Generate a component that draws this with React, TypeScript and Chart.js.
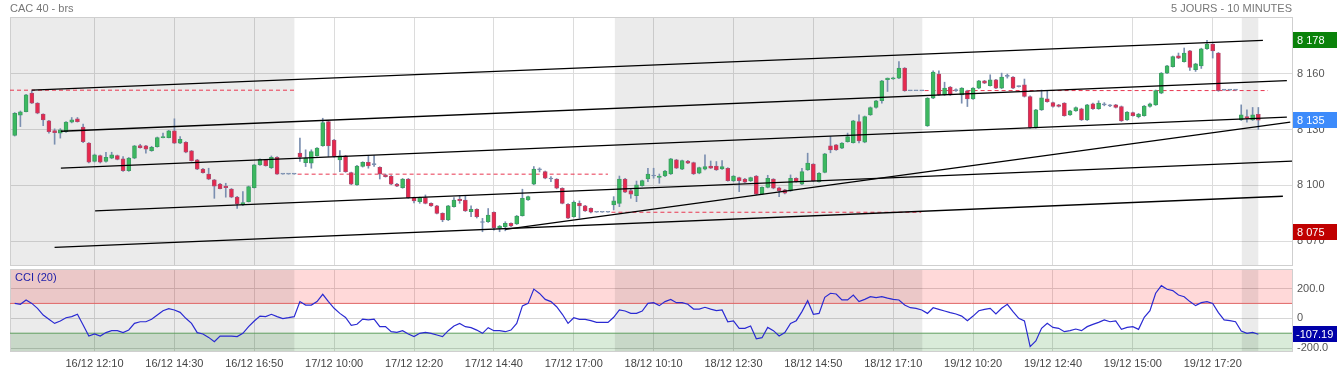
import React, { useEffect, useRef } from "react";
import { Chart, registerables } from "chart.js";

Chart.register(...registerables);

const FONT = 'Arial, "Liberation Sans", sans-serif';

// ---- candles (10-minute bars, index 0 = first visible bar) ----
const opens = [
  8126.8, 8137.7, 8139.7, 8149.6, 8144.2, 8138.3, 8134.7, 8129.5, 8128.1, 8128.9,
  8134.0, 8135.8, 8131.3, 8122.7, 8112.8, 8116.0, 8112.8, 8114.6, 8116.0, 8114.2,
  8107.9, 8114.6, 8121.4, 8121.2, 8118.7, 8120.8, 8125.7, 8125.7, 8129.3, 8122.7,
  8123.2, 8118.5, 8113.7, 8108.7, 8106.1, 8102.9, 8100.7, 8099.6, 8098.0, 8093.6,
  8089.4, 8091.2, 8098.7, 8111.0, 8113.7, 8109.5, 8115.1, 8106.0, 8106.0, 8106.0,
  8117.3, 8112.2, 8111.9, 8116.0, 8121.4, 8134.3, 8124.4, 8113.7, 8115.8, 8106.8,
  8100.2, 8110.1, 8112.4, 8111.3, 8109.7, 8105.6, 8105.0, 8100.7, 8098.7, 8103.4,
  8093.4, 8091.2, 8093.4, 8090.3, 8088.9, 8084.9, 8081.3, 8088.5, 8092.6, 8092.1,
  8085.8, 8087.1, 8080.2, 8080.4, 8085.4, 8076.9, 8077.7, 8079.5, 8079.2, 8083.7,
  8092.1, 8100.6, 8108.3, 8107.4, 8103.4, 8103.3, 8098.4, 8089.8, 8083.1, 8090.3,
  8088.9, 8087.6, 8085.5, 8085.5, 8085.5,
  8089.4, 8090.3, 8103.4, 8097.1, 8094.4, 8099.8, 8103.4, 8105.0, 8104.3, 8105.0,
  8106.1, 8113.7, 8108.7, 8113.1, 8112.2, 8106.5, 8108.7, 8110.4, 8110.4, 8108.8,
  8109.2, 8102.3, 8104.1, 8103.4, 8102.3, 8105.0, 8095.2, 8098.9, 8103.3, 8098.7,
  8097.5, 8097.0, 8103.8, 8100.6, 8108.3, 8111.4, 8102.0, 8107.0, 8121.2, 8121.8,
  8120.0, 8123.5, 8123.0, 8134.3, 8123.2, 8137.9, 8141.9, 8145.6, 8156.8, 8157.3,
  8157.7, 8163.1, 8150.9, 8150.9, 8150.9,
  8132.0, 8146.9, 8159.9, 8148.7, 8152.9, 8151.4, 8148.7, 8150.9, 8146.5, 8152.3,
  8156.2, 8153.7, 8156.8, 8152.3, 8158.6, 8158.2, 8153.2, 8154.1, 8147.8, 8131.1,
  8140.6, 8146.5, 8144.5, 8143.3, 8144.2, 8137.9, 8140.1, 8141.2, 8135.2, 8143.9,
  8141.2, 8143.3, 8142.9, 8143.3, 8142.4, 8135.2, 8139.1, 8137.0, 8137.5, 8142.4,
  8143.3, 8149.6, 8160.4, 8163.9, 8169.7, 8166.6, 8172.4, 8162.2, 8164.3, 8173.5,
  8176.0, 8171.2, 8151.2, 8151.2, 8151.2,
  8135.2, 8137.0, 8135.2, 8138.2,
];
const highs = [
  8139.2, 8140.0, 8149.0, 8150.9, 8144.5, 8138.5, 8135.0, 8130.4, 8130.5, 8134.3,
  8136.5, 8136.5, 8132.9, 8123.0, 8116.8, 8116.3, 8117.8, 8117.8, 8116.3, 8115.5,
  8115.0, 8121.5, 8122.1, 8121.5, 8121.0, 8126.0, 8128.1, 8129.6, 8135.8, 8126.2,
  8123.5, 8118.8, 8114.0, 8109.2, 8109.2, 8103.2, 8101.0, 8101.1, 8098.3, 8094.0,
  8096.6, 8099.6, 8111.3, 8114.3, 8114.0, 8115.8, 8115.4, 8106.0, 8106.0, 8106.0,
  8125.4, 8119.1, 8119.1, 8120.3, 8136.1, 8134.6, 8124.7, 8118.7, 8116.1, 8107.1,
  8110.7, 8112.7, 8116.0, 8116.0, 8110.0, 8106.0, 8105.3, 8101.0, 8103.7, 8103.7,
  8093.7, 8093.7, 8094.8, 8090.6, 8089.2, 8085.2, 8089.2, 8093.4, 8094.3, 8094.3,
  8088.9, 8087.4, 8082.2, 8087.5, 8085.7, 8078.4, 8080.4, 8079.8, 8083.8, 8097.9,
  8094.2, 8110.1, 8109.4, 8107.7, 8104.7, 8103.6, 8098.7, 8090.1, 8091.6, 8091.6,
  8089.2, 8087.9, 8085.5, 8085.5, 8085.5,
  8093.9, 8105.0, 8103.7, 8098.4, 8102.3, 8102.8, 8109.2, 8109.2, 8106.1, 8108.0,
  8114.5, 8114.0, 8113.6, 8113.4, 8112.5, 8109.8, 8116.4, 8113.1, 8112.8, 8113.3,
  8109.5, 8105.3, 8104.4, 8103.7, 8104.4, 8105.3, 8099.2, 8105.4, 8103.6, 8099.0,
  8097.8, 8105.6, 8104.1, 8109.2, 8117.3, 8111.7, 8106.8, 8117.2, 8126.2, 8122.0,
  8123.0, 8128.1, 8135.0, 8137.9, 8137.3, 8142.2, 8145.8, 8156.5, 8157.8, 8158.2,
  8166.6, 8163.4, 8150.9, 8150.9, 8150.9,
  8147.2, 8161.6, 8161.6, 8155.5, 8153.2, 8152.0, 8152.6, 8151.2, 8152.6, 8156.5,
  8156.5, 8159.5, 8157.1, 8160.4, 8159.9, 8158.5, 8153.5, 8157.2, 8148.1, 8140.9,
  8151.3, 8150.9, 8144.8, 8143.6, 8144.5, 8140.4, 8142.2, 8141.5, 8143.6, 8144.2,
  8145.5, 8144.5, 8143.5, 8143.6, 8142.7, 8139.7, 8139.4, 8138.7, 8143.0, 8144.2,
  8151.3, 8160.7, 8164.6, 8169.6, 8171.2, 8173.9, 8172.7, 8165.7, 8173.8, 8178.0,
  8176.3, 8171.5, 8151.2, 8151.2, 8151.2,
  8143.3, 8140.6, 8141.9, 8141.9,
];
const lows = [
  8126.5, 8131.6, 8139.5, 8144.0, 8138.5, 8132.1, 8128.1, 8122.1, 8125.4, 8128.5,
  8133.6, 8134.0, 8123.0, 8112.0, 8112.5, 8112.0, 8112.5, 8114.3, 8113.7, 8107.5,
  8107.5, 8114.3, 8120.0, 8117.3, 8118.3, 8120.5, 8125.5, 8125.5, 8122.4, 8122.4,
  8117.5, 8113.0, 8108.4, 8106.5, 8103.0, 8093.0, 8098.0, 8093.6, 8093.3, 8087.6,
  8089.0, 8091.0, 8098.5, 8110.7, 8110.3, 8109.0, 8105.8, 8106.0, 8106.0, 8106.0,
  8112.8, 8110.1, 8109.2, 8115.7, 8121.0, 8115.5, 8115.2, 8107.4, 8107.0, 8100.3,
  8100.0, 8109.8, 8109.2, 8110.1, 8103.4, 8104.4, 8100.3, 8099.3, 8098.4, 8093.0,
  8090.5, 8090.3, 8090.0, 8088.6, 8084.6, 8080.4, 8081.0, 8088.2, 8090.3, 8085.9,
  8083.1, 8082.4, 8075.0, 8080.0, 8075.9, 8075.0, 8075.5, 8077.8, 8078.9, 8083.4,
  8091.8, 8100.3, 8107.2, 8103.5, 8102.0, 8098.1, 8090.0, 8082.0, 8082.8, 8082.3,
  8085.9, 8085.2, 8085.5, 8085.5, 8085.5,
  8086.7, 8088.5, 8096.0, 8093.0, 8091.2, 8099.5, 8102.0, 8103.8, 8101.1, 8104.7,
  8105.8, 8109.0, 8108.4, 8111.6, 8105.8, 8106.2, 8108.3, 8109.0, 8108.0, 8108.5,
  8102.2, 8102.0, 8096.6, 8101.4, 8102.0, 8094.9, 8094.9, 8098.6, 8098.1, 8093.9,
  8095.4, 8096.7, 8101.7, 8100.3, 8108.0, 8102.0, 8101.7, 8106.7, 8117.5, 8118.8,
  8119.7, 8123.2, 8122.7, 8122.8, 8122.9, 8137.6, 8141.5, 8144.2, 8150.5, 8157.0,
  8157.4, 8150.6, 8150.9, 8150.9, 8150.9,
  8131.7, 8146.6, 8148.4, 8148.4, 8148.4, 8150.5, 8144.2, 8142.4, 8146.2, 8152.0,
  8154.7, 8153.4, 8152.0, 8152.0, 8157.7, 8152.0, 8152.9, 8147.5, 8130.8, 8130.8,
  8140.3, 8144.7, 8142.1, 8142.1, 8137.2, 8137.6, 8139.8, 8134.9, 8134.9, 8140.9,
  8140.9, 8142.8, 8142.3, 8141.6, 8134.4, 8134.9, 8137.2, 8136.3, 8137.2, 8142.1,
  8143.0, 8149.3, 8160.1, 8163.6, 8168.2, 8166.3, 8161.8, 8161.3, 8162.9, 8173.2,
  8168.5, 8150.6, 8151.2, 8151.2, 8151.2,
  8134.9, 8134.0, 8134.9, 8130.1,
];
const closes = [
  8138.8, 8139.5, 8148.7, 8144.2, 8138.8, 8135.2, 8128.9, 8128.4, 8129.8, 8134.0,
  8135.2, 8134.3, 8123.5, 8112.4, 8116.4, 8112.4, 8115.1, 8116.4, 8114.0, 8107.9,
  8114.6, 8121.2, 8120.3, 8119.4, 8120.5, 8125.7, 8126.2, 8129.3, 8122.7, 8124.8,
  8117.8, 8113.3, 8108.7, 8106.8, 8103.3, 8099.6, 8098.2, 8098.7, 8093.6, 8090.0,
  8090.7, 8099.3, 8111.0, 8114.0, 8110.6, 8115.1, 8106.0, 8106.0, 8106.0, 8106.0,
  8115.1, 8114.6, 8118.1, 8120.0, 8133.8, 8121.2, 8115.5, 8115.8, 8107.4, 8100.6,
  8110.4, 8112.4, 8110.4, 8111.1, 8106.1, 8104.7, 8100.6, 8099.6, 8103.4, 8093.4,
  8091.6, 8093.4, 8090.3, 8088.9, 8084.9, 8081.3, 8088.9, 8092.1, 8091.7, 8086.2,
  8087.1, 8083.1, 8080.0, 8084.0, 8077.2, 8078.1, 8079.5, 8078.1, 8083.5, 8093.0,
  8093.9, 8108.8, 8108.4, 8103.8, 8103.4, 8098.4, 8090.3, 8082.3, 8090.9, 8088.9,
  8086.2, 8085.5, 8085.5, 8085.5, 8085.5,
  8091.6, 8103.4, 8096.3, 8095.2, 8100.2, 8102.5, 8106.1, 8105.1, 8105.0, 8107.7,
  8114.2, 8109.2, 8113.3, 8111.9, 8106.1, 8109.5, 8110.1, 8109.2, 8108.3, 8110.1,
  8102.5, 8105.0, 8102.5, 8101.7, 8104.1, 8095.2, 8098.9, 8103.8, 8098.4, 8097.1,
  8095.7, 8103.8, 8102.0, 8107.4, 8111.9, 8102.3, 8106.5, 8116.9, 8119.1, 8119.1,
  8122.7, 8126.2, 8134.7, 8123.9, 8137.0, 8141.9, 8145.5, 8156.2, 8157.7, 8157.8,
  8163.1, 8150.9, 8150.9, 8150.9, 8150.9,
  8146.9, 8160.9, 8148.7, 8152.3, 8148.7, 8151.0, 8152.3, 8146.5, 8152.3, 8156.2,
  8155.0, 8156.8, 8152.3, 8158.2, 8158.7, 8152.3, 8153.1, 8147.8, 8131.1, 8140.6,
  8147.1, 8145.0, 8142.4, 8142.4, 8137.5, 8140.1, 8141.9, 8135.2, 8143.3, 8141.2,
  8144.2, 8143.4, 8142.8, 8141.9, 8134.7, 8139.4, 8137.5, 8138.4, 8142.7, 8143.9,
  8151.0, 8160.4, 8164.3, 8169.3, 8168.5, 8171.2, 8163.4, 8165.4, 8173.5, 8176.0,
  8172.4, 8150.9, 8151.2, 8151.2, 8151.2,
  8137.9, 8136.1, 8137.9, 8135.0,
];

// ---- CCI (20) ----
const cci = [
  100, 94, 123, 100, 67, 22, -7, -34, -18, 4,
  11, 27, -45, -119, -105, -119, -96, -83, -83, -96,
  -78, -34, -23, -23, -7, 22, 51, 65, 56, 40,
  0, -34, -96, -105, -128, -157, -119, -119, -119, -123,
  -101, -56, -18, 15, 11, 27, 11, -2, 4, 11,
  112, 89, 89, 112, 161, 112, 67, 33, 6, -47,
  -40, -5, -11, -5, -56, -56, -90, -94, -83, -105,
  -123, -101, -94, -101, -112, -123, -83, -52, -34, -56,
  -63, -79, -101, -63, -83, -83, -90, -79, -34, 83,
  100, 196, 167, 127, 112, 78, 27, -34, 4, -7,
  -7, -16, -27, -27, -27,
  7, 56, 49, 33, 33, 49, 100, 105, 85, 112,
  127, 105, 105, 94, 62, 62, 74, 62, 51, 56,
  -23, -18, -67, -67, -52, -137, -130, -61, -83, -119,
  -96, -34, -16, 45, 118, 27, 33, 141, 168, 163,
  123, 123, 156, 112, 127, 145, 139, 145, 135, 127,
  123, 89, 71, 67, 56,
  33, 71, 60, 49, 38, 29, 15, -16, 15, 51,
  60, 67, 29, 67, 94, 45, 0, -18, -190, -152,
  -67, -34, -61, -67, -90, -83, -72, -83, -56, -41,
  -27, -11, -23, -18, -74, -61, -56, -74, 7, 51,
  168, 219, 195, 186, 156, 145, 112, 85, 105, 112,
  100, 38, -11, -16, -23,
  -85, -101, -94, -107.19,
];

// ---- axes ----
const tickIdx = [14, 28, 42, 56, 70, 84, 98, 112, 126, 140, 154, 168, 182, 196, 210];
const tickLabels = [
  "16/12 12:10", "16/12 14:30", "16/12 16:50", "17/12 10:00", "17/12 12:20",
  "17/12 14:40", "17/12 17:00", "18/12 10:10", "18/12 12:30", "18/12 14:50",
  "18/12 17:10", "19/12 10:20", "19/12 12:40", "19/12 15:00", "19/12 17:20",
];
const priceTicks = [8070, 8100, 8130, 8160];
const cciTicks = [-200, 0, 200];
const cciLevels = [100, -100];

// ---- annotations ----
const grayDays = [[-0.82, 49.04], [105.2, 159.1], [215.1, 218.0]];
const trendLines = [
  [3.0, 8151.2, 218.8, 8178.0],
  [8.1, 8129.1, 223.0, 8156.4],
  [8.1, 8109.2, 223.0, 8136.7],
  [14.1, 8086.2, 223.9, 8113.0],
  [7.0, 8066.6, 222.3, 8094.1],
  [86.0, 8076.3, 223.6, 8134.0],
];
const prevCloseLines = [
  [-0.82, 49.0, 8151.2],
  [49.6, 104.0, 8106.0],
  [104.6, 158.9, 8085.5],
  [159.5, 219.7, 8151.0],
];
const priceBadges = [8178, 8135, 8075];
const cciLast = -107.19;

const X_MIN = -0.82;
const X_MAX = 223.9;

const GREEN = "#3cb95f";
const GREEN_B = "#3b9e63";
const RED = "#e8284c";
const RED_B = "#b4466a";
const WICK = "#7b8fb0";

const fmtPrice = (v: number) => {
  const r = Math.round(v);
  return `${Math.floor(r / 1000)} ${String(r % 1000).padStart(3, "0")}`;
};

const noPad = (s: any) => {
  s.paddingTop = 0;
  s.paddingBottom = 0;
  s.paddingLeft = 0;
  s.paddingRight = 0;
};

export default function App() {
  const mainRef = useRef<HTMLCanvasElement>(null);
  const cciRef = useRef<HTMLCanvasElement>(null);

  useEffect(() => {
    document.body.style.margin = "0";
    Chart.defaults.font.family = FONT;
    Chart.defaults.font.size = 11;

    const dirOf = (i: number) => {
      const d = closes[i] - opens[i];
      return d > 0.45 ? 1 : d < -0.45 ? -1 : 0;
    };
    const bodies = opens.map((o, i) => ({ x: i, y: [Math.min(o, closes[i]), Math.max(o, closes[i])] }));
    const wicks = highs.map((h, i) => ({ x: i, y: [lows[i], h] }));

    const xCommon = (showLabels: boolean) => ({
      type: "linear" as const,
      min: X_MIN,
      max: X_MAX,
      offset: false,
      afterBuildTicks: (s: any) => {
        s.ticks = tickIdx.map((v) => ({ value: v }));
      },
      ticks: {
        display: showLabels,
        autoSkip: false,
        maxRotation: 0,
        padding: 6,
        color: "#444",
        font: { size: 11, family: FONT },
        callback: (v: any) => {
          const k = tickIdx.indexOf(Number(v));
          return k >= 0 ? tickLabels[k] : "";
        },
      },
      grid: { color: "#dcdcdc", drawTicks: false, offset: false },
      border: { display: false },
      afterFit: (s: any) => {
        s.height = showLabels ? 21 : 0;
        noPad(s);
      },
    });

    const mainDeco = {
      id: "mainDeco",
      beforeDatasetsDraw(chart: any) {
        const { ctx, chartArea: a, scales } = chart;
        const x = scales.x;
        ctx.save();
        ctx.beginPath();
        ctx.rect(a.left, a.top, a.right - a.left, a.bottom - a.top);
        ctx.clip();
        ctx.fillStyle = "rgba(0,0,0,0.08)";
        grayDays.forEach(([s, e]) => {
          const x1 = x.getPixelForValue(s);
          const x2 = x.getPixelForValue(e);
          ctx.fillRect(x1, a.top, x2 - x1, a.bottom - a.top);
        });
        ctx.restore();
        ctx.save();
        ctx.strokeStyle = "#cfcfcf";
        ctx.lineWidth = 1;
        ctx.strokeRect(Math.round(a.left) + 0.5, Math.round(a.top) + 0.5, Math.round(a.right - a.left), Math.round(a.bottom - a.top));
        ctx.restore();
      },
      afterDraw(chart: any) {
        const { ctx, scales } = chart;
        const y = scales.y;
        ctx.save();
        ctx.font = `11px ${FONT}`;
        ctx.fillStyle = "#777";
        ctx.textBaseline = "middle";
        ctx.textAlign = "left";
        ctx.fillText("CAC 40 - brs", 10, 9);
        ctx.textAlign = "right";
        ctx.fillText("5 JOURS - 10 MINUTES", 1292, 9);
        const colors = ["#0a820a", "#3d8bfb", "#c00000"];
        priceBadges.forEach((v, k) => {
          const py = Math.round(y.getPixelForValue(v));
          ctx.fillStyle = colors[k];
          ctx.fillRect(1293, py - 8, 44, 16);
          ctx.fillStyle = "#fff";
          ctx.textAlign = "left";
          ctx.fillText(fmtPrice(v), 1297, py + 0.5);
        });
        ctx.restore();
      },
    };

    const lineDs = (pts: { x: number; y: number }[], color: string, width: number, dash: number[], order: number) => ({
      type: "line" as const,
      data: pts,
      borderColor: color,
      borderWidth: width,
      borderDash: dash,
      pointRadius: 0,
      fill: false,
      tension: 0,
      order,
    });

    const main = new Chart(mainRef.current as HTMLCanvasElement, {
      type: "bar",
      data: {
        datasets: [
          ...prevCloseLines.map(([a, b, v]) =>
            lineDs([{ x: a, y: v }, { x: b, y: v }], "#e8364f", 1, [4, 3], 5)
          ),
          {
            type: "bar" as const,
            data: wicks as any,
            backgroundColor: WICK,
            borderWidth: 0,
            barThickness: 1,
            grouped: false,
            order: 4,
          },
          {
            type: "bar" as const,
            data: bodies as any,
            backgroundColor: opens.map((_, i) => (dirOf(i) > 0 ? GREEN : dirOf(i) < 0 ? RED : WICK)),
            borderColor: opens.map((_, i) => (dirOf(i) > 0 ? GREEN_B : dirOf(i) < 0 ? RED_B : WICK)),
            borderWidth: 1,
            borderSkipped: false,
            barThickness: 4,
            minBarLength: 1,
            grouped: false,
            order: 3,
          },
          ...trendLines.map(([x1, y1, x2, y2]) =>
            lineDs([{ x: x1, y: y1 }, { x: x2, y: y2 }], "#000", 1.3, [], 1)
          ),
        ] as any,
      },
      options: {
        responsive: false,
        devicePixelRatio: 1,
        animation: false,
        events: [],
        layout: { padding: { left: 10, top: 17, right: 0, bottom: 2 } },
        plugins: { legend: { display: false }, tooltip: { enabled: false } },
        scales: {
          x: xCommon(false) as any,
          y: {
            position: "right",
            min: 8057.1,
            max: 8190.6,
            afterBuildTicks: (s: any) => {
              s.ticks = priceTicks.map((v) => ({ value: v }));
            },
            ticks: {
              color: "#555",
              padding: 5,
              font: { size: 11, family: FONT },
              callback: (v: any) => fmtPrice(Number(v)),
            },
            grid: { color: "#dcdcdc", drawTicks: false },
            border: { display: false },
            afterFit: (s: any) => {
              s.width = 45;
              noPad(s);
            },
          } as any,
        },
      },
      plugins: [mainDeco],
    });

    const cciDeco = {
      id: "cciDeco",
      beforeDatasetsDraw(chart: any) {
        const { ctx, chartArea: a, scales } = chart;
        const x = scales.x;
        const y = scales.y;
        ctx.save();
        ctx.beginPath();
        ctx.rect(a.left, a.top, a.right - a.left, a.bottom - a.top);
        ctx.clip();
        const y100 = y.getPixelForValue(cciLevels[0]);
        const yM100 = y.getPixelForValue(cciLevels[1]);
        ctx.fillStyle = "rgba(255,0,0,0.15)";
        ctx.fillRect(a.left, a.top, a.right - a.left, y100 - a.top);
        ctx.fillStyle = "rgba(0,120,0,0.15)";
        ctx.fillRect(a.left, yM100, a.right - a.left, a.bottom - yM100);
        ctx.fillStyle = "rgba(0,0,0,0.08)";
        grayDays.forEach(([s, e]) => {
          const x1 = x.getPixelForValue(s);
          const x2 = x.getPixelForValue(e);
          ctx.fillRect(x1, a.top, x2 - x1, a.bottom - a.top);
        });
        ctx.restore();
        ctx.save();
        ctx.strokeStyle = "#cfcfcf";
        ctx.lineWidth = 1;
        ctx.strokeRect(Math.round(a.left) + 0.5, Math.round(a.top) + 0.5, Math.round(a.right - a.left), Math.round(a.bottom - a.top));
        ctx.restore();
      },
      afterDraw(chart: any) {
        const { ctx, scales } = chart;
        const y = scales.y;
        ctx.save();
        ctx.font = `11px ${FONT}`;
        ctx.textBaseline = "middle";
        ctx.textAlign = "left";
        ctx.fillStyle = "#1c1ca8";
        ctx.fillText("CCI (20)", 15, 11);
        const py = Math.round(y.getPixelForValue(cciLast));
        ctx.fillStyle = "#0000a8";
        ctx.fillRect(1293, py - 8, 44, 16);
        ctx.fillStyle = "#fff";
        ctx.fillText(cciLast.toFixed(2), 1296, py + 0.5);
        ctx.restore();
      },
    };

    const cciChart = new Chart(cciRef.current as HTMLCanvasElement, {
      type: "line",
      data: {
        datasets: [
          lineDs([{ x: X_MIN, y: cciLevels[0] }, { x: X_MAX, y: cciLevels[0] }], "#e06464", 1, [], 3),
          lineDs([{ x: X_MIN, y: cciLevels[1] }, { x: X_MAX, y: cciLevels[1] }], "#5e9e5e", 1, [], 3),
          lineDs(cci.map((v, i) => ({ x: i, y: v })), "#2a2ad2", 1.2, [], 1),
        ] as any,
      },
      options: {
        responsive: false,
        devicePixelRatio: 1,
        animation: false,
        events: [],
        layout: { padding: { left: 10, top: 2, right: 0, bottom: 0 } },
        plugins: { legend: { display: false }, tooltip: { enabled: false } },
        scales: {
          x: xCommon(true) as any,
          y: {
            position: "right",
            min: -219.4,
            max: 330.8,
            afterBuildTicks: (s: any) => {
              s.ticks = cciTicks.map((v) => ({ value: v }));
            },
            ticks: {
              color: "#555",
              padding: 5,
              font: { size: 11, family: FONT },
              callback: (v: any) => (Number(v) === 0 ? "0" : Number(v).toFixed(1)),
            },
            grid: { color: "#d6d6d6", drawTicks: false },
            border: { display: false },
            afterFit: (s: any) => {
              s.width = 45;
              noPad(s);
            },
          } as any,
        },
      },
      plugins: [cciDeco],
    });

    return () => {
      main.destroy();
      cciChart.destroy();
    };
  }, []);

  return (
    <div style={{ position: "absolute", left: 0, top: 0, width: 1337, height: 372, background: "#fff" }}>
      <canvas ref={mainRef} width={1337} height={267} style={{ display: "block" }} />
      <canvas ref={cciRef} width={1337} height={105} style={{ display: "block" }} />
    </div>
  );
}
